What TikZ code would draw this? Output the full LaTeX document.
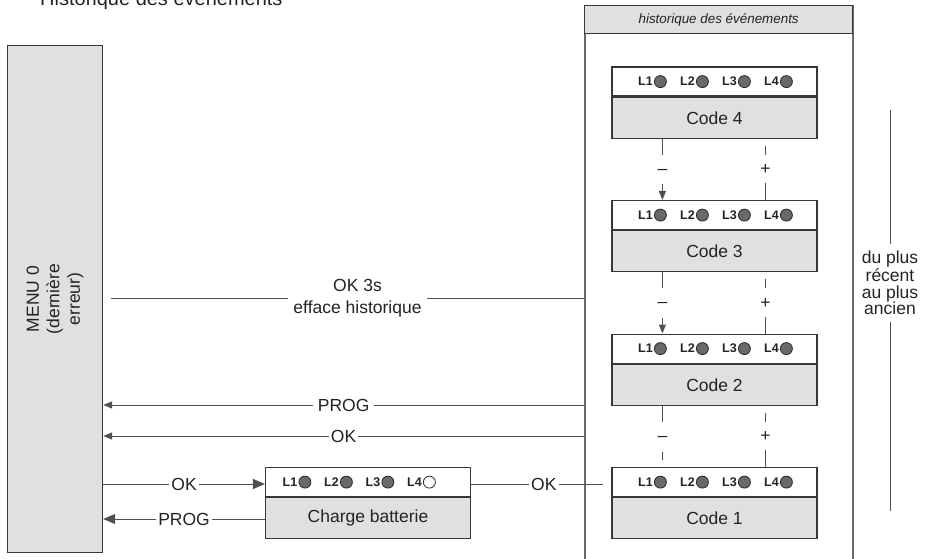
\documentclass[tikz,border=0pt]{standalone}
\usepackage{fontspec}
\setmainfont{Liberation Sans}
\usetikzlibrary{arrows.meta, positioning}
\definecolor{boxgray}{RGB}{223,224,226}
\definecolor{linegray}{RGB}{80,80,80}
\definecolor{edgegray}{RGB}{55,55,55}
\definecolor{panelgray}{RGB}{105,105,105}
\definecolor{ledgray}{RGB}{105,105,105}
\definecolor{txtgray}{RGB}{35,35,35}

\begin{document}
\begin{tikzpicture}[x=1pt, y=-1pt,
    txt/.style={font=\fontsize{17.5}{21}\selectfont, text=txtgray},
    ledrow/.style={
        rectangle, draw=edgegray, line width=1.2pt, fill=white,
        minimum width=205pt, minimum height=29pt, inner sep=0pt
    },
    codebox/.style={
        rectangle, draw=edgegray, line width=1.2pt, fill=boxgray,
        minimum width=205pt, minimum height=41pt, inner sep=0pt, txt
    },
    ledlbl/.style={font=\fontsize{12.5}{14}\selectfont\bfseries, text=txtgray, inner sep=0pt, anchor=east},
    led/.style={circle, draw=black!85, line width=0.8pt, fill=ledgray, minimum size=12pt, inner sep=0pt},
    ledoff/.style={led, fill=white},
    conn/.style={draw=linegray, line width=1pt},
    arrs/.style={conn, -{Triangle[length=9pt, width=7pt]}},
    arrb/.style={conn, -{Triangle[length=12pt, width=10pt]}},
    lbl/.style={txt, fill=white, inner xsep=2pt, inner ysep=1pt},
    pm/.style={txt, inner sep=0pt}
]
\useasboundingbox (0,0) rectangle (927,559);

% cut heading
\node[font=\fontsize{20}{24}\selectfont, text=txtgray, anchor=base west, inner sep=0pt] (title) at (40,6) {Historique des événements};

% menu
\node[rectangle, draw=edgegray, line width=1.2pt, fill=boxgray, anchor=north west,
      minimum width=95pt, minimum height=507pt, inner sep=0pt] (menu) at (7,45) {};
\node[txt, font=\fontsize{17.5}{20.5}\selectfont, rotate=90, align=center] (menutxt) at (menu.center) {MENU 0\\(dernière\\erreur)};

% event history panel
\node[rectangle, draw=panelgray, line width=1.5pt, anchor=north west,
      minimum width=268pt, minimum height=575pt, inner sep=0pt] (panel) at (584,5) {};
\node[rectangle, draw=edgegray, line width=1.3pt, fill=boxgray, anchor=north west,
      minimum width=268pt, minimum height=28pt, inner sep=0pt,
      font=\fontsize{13.4}{16}\selectfont\itshape, text=txtgray] (hdr) at (584,5) {historique des événements};

% code boxes
\foreach \n/\y in {4/66.5, 3/200, 2/333.5, 1/467} {
  \node[ledrow, anchor=north] (t\n) at (714.5,\y) {};
  \node[codebox, anchor=north] (c\n) at (t\n.south) {Code \n};
  \foreach \k [evaluate=\k as \dx using 49+42*(\k-1)] in {1,...,4} {
    \node[led] (l\n\k) at ([xshift=\dx]t\n.west) {};
    \node[ledlbl] at ([xshift=-1]l\n\k.west) {L\k};
  }
}

% charge batterie
\node[ledrow, anchor=north] (tch) at (368,467) {};
\node[codebox, anchor=north] (charge) at (tch.south) {Charge batterie};
\foreach \k/\s [evaluate=\k as \dx using 40+41.5*(\k-1)] in {1/led, 2/led, 3/led, 4/ledoff} {
  \node[\s] (lch\k) at ([xshift=\dx]tch.west) {};
  \node[ledlbl] at ([xshift=-1]lch\k.west) {L\k};
}

% minus / plus between codes
\foreach \u/\l in {4/3, 3/2} {
  \draw[conn] ([xshift=51]c\u.south west) -- ++(0,16) ++(0,17) node[pm] {--};
  \draw[arrs] ([xshift=51, yshift=16]t\l.north west) -- ([xshift=51]t\l.north west);
  \draw[conn] ([xshift=154]c\u.south west) ++(0,7) -- ++(0,9) ++(0,15) node[pm] {+};
  \draw[conn] ([xshift=154, yshift=17]t\l.north west) -- ([xshift=154]t\l.north west);
}
\draw[conn] ([xshift=51]c2.south west) -- ++(0,16) ++(0,17) node[pm] {--};
\draw[conn] ([xshift=51, yshift=15]t1.north west) -- ([xshift=51, yshift=7]t1.north west);
\draw[conn] ([xshift=154]c2.south west) ++(0,7) -- ++(0,9) ++(0,15) node[pm] {+};
\draw[conn] ([xshift=154, yshift=17]t1.north west) -- ([xshift=154]t1.north west);

% links to menu
\draw[conn] (panel.west |- 0,298) -- node[lbl, pos=0.479, inner xsep=5pt, align=center, font=\fontsize{17.5}{22}\selectfont] {OK 3s\\efface historique} ([xshift=8]menu.east |- 0,298);
\draw[arrs] (panel.west |- 0,405) -- node[lbl, inner xsep=5pt] {PROG} (menu.east |- 0,405);
\draw[arrs] (panel.west |- 0,436) -- node[lbl] {OK} (menu.east |- 0,436);
\draw[arrb] (menu.east |- 0,484) -- node[lbl] {OK} (tch.west |- 0,484);
\draw[conn] (tch.east |- 0,484) -- node[lbl, pos=0.55] {OK} ([xshift=-8]t1.west |- 0,484);
\draw[arrb] (charge.west |- 0,519) -- node[lbl] {PROG} (menu.east |- 0,519);

% order note
\node[txt, align=center, font=\fontsize{17.5}{16.5}\selectfont, inner sep=7pt] (ord) at (890,283) {du plus\\récent\\au plus\\ancien};
\coordinate (ordtop) at (890,110);
\coordinate (ordbot) at (890,511);
\draw[conn] (ordtop) -- (ord.north);
\draw[conn] (ord.south) -- (ordbot);

\end{tikzpicture}
\end{document}
